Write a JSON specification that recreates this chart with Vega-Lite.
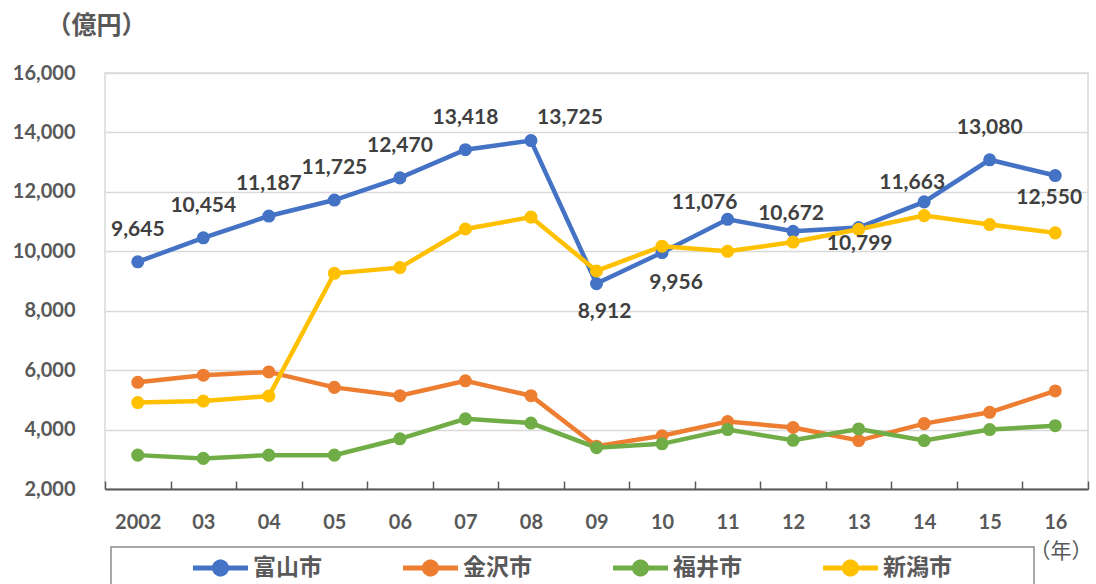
{
  "$schema": "https://vega.github.io/schema/vega-lite/v6.json",
  "width": 983,
  "height": 416,
  "autosize": {"type": "none"},
  "padding": {"left": 105, "top": 73, "right": 8, "bottom": 95},
  "background": "white",
  "config": {"view": {"stroke": "#d9d9d9", "strokeWidth": 1.5}, "font": "Lato"},
  "data": {"values": [
    {"year": "2002", "city": "富山市", "value": 9645},
    {"year": "03", "city": "富山市", "value": 10454},
    {"year": "04", "city": "富山市", "value": 11187},
    {"year": "05", "city": "富山市", "value": 11725},
    {"year": "06", "city": "富山市", "value": 12470},
    {"year": "07", "city": "富山市", "value": 13418},
    {"year": "08", "city": "富山市", "value": 13725},
    {"year": "09", "city": "富山市", "value": 8912},
    {"year": "10", "city": "富山市", "value": 9956},
    {"year": "11", "city": "富山市", "value": 11076},
    {"year": "12", "city": "富山市", "value": 10672},
    {"year": "13", "city": "富山市", "value": 10799},
    {"year": "14", "city": "富山市", "value": 11663},
    {"year": "15", "city": "富山市", "value": 13080},
    {"year": "16", "city": "富山市", "value": 12550},
    {"year": "2002", "city": "金沢市", "value": 5590},
    {"year": "03", "city": "金沢市", "value": 5830},
    {"year": "04", "city": "金沢市", "value": 5940},
    {"year": "05", "city": "金沢市", "value": 5420},
    {"year": "06", "city": "金沢市", "value": 5140},
    {"year": "07", "city": "金沢市", "value": 5640},
    {"year": "08", "city": "金沢市", "value": 5140},
    {"year": "09", "city": "金沢市", "value": 3440},
    {"year": "10", "city": "金沢市", "value": 3790},
    {"year": "11", "city": "金沢市", "value": 4270},
    {"year": "12", "city": "金沢市", "value": 4070},
    {"year": "13", "city": "金沢市", "value": 3630},
    {"year": "14", "city": "金沢市", "value": 4200},
    {"year": "15", "city": "金沢市", "value": 4580},
    {"year": "16", "city": "金沢市", "value": 5300},
    {"year": "2002", "city": "福井市", "value": 3140},
    {"year": "03", "city": "福井市", "value": 3030},
    {"year": "04", "city": "福井市", "value": 3140},
    {"year": "05", "city": "福井市", "value": 3140},
    {"year": "06", "city": "福井市", "value": 3690},
    {"year": "07", "city": "福井市", "value": 4360},
    {"year": "08", "city": "福井市", "value": 4220},
    {"year": "09", "city": "福井市", "value": 3390},
    {"year": "10", "city": "福井市", "value": 3520},
    {"year": "11", "city": "福井市", "value": 4000},
    {"year": "12", "city": "福井市", "value": 3640},
    {"year": "13", "city": "福井市", "value": 4020},
    {"year": "14", "city": "福井市", "value": 3630},
    {"year": "15", "city": "福井市", "value": 4000},
    {"year": "16", "city": "福井市", "value": 4130},
    {"year": "2002", "city": "新潟市", "value": 4910},
    {"year": "03", "city": "新潟市", "value": 4960},
    {"year": "04", "city": "新潟市", "value": 5130},
    {"year": "05", "city": "新潟市", "value": 9260},
    {"year": "06", "city": "新潟市", "value": 9450},
    {"year": "07", "city": "新潟市", "value": 10750},
    {"year": "08", "city": "新潟市", "value": 11150},
    {"year": "09", "city": "新潟市", "value": 9340},
    {"year": "10", "city": "新潟市", "value": 10170},
    {"year": "11", "city": "新潟市", "value": 10000},
    {"year": "12", "city": "新潟市", "value": 10310},
    {"year": "13", "city": "新潟市", "value": 10740},
    {"year": "14", "city": "新潟市", "value": 11200},
    {"year": "15", "city": "新潟市", "value": 10900},
    {"year": "16", "city": "新潟市", "value": 10620}
  ]},
  "encoding": {
    "x": {
      "field": "year", "type": "nominal",
      "scale": {"type": "band", "domain": ["2002","03","04","05","06","07","08","09","10","11","12","13","14","15","16"], "paddingInner": 0, "paddingOuter": 0},
      "axis": {
        "title": "（年）", "titleX": 924, "titleY": 62, "titleAlign": "left", "titleBaseline": "middle", "titleAngle": 0,
        "titleFont": "Noto Sans CJK JP", "titleFontSize": 21, "titleFontWeight": "normal", "titleColor": "#595959",
        "labelAngle": 0, "labelFont": "Lato", "labelFontSize": 20, "labelFontWeight": "bold", "labelColor": "#595959",
        "labelPadding": 31, "labelBaseline": "top",
        "domainColor": "#595959", "domainWidth": 2, "tickColor": "#595959", "tickWidth": 1.5, "tickSize": -8,
        "tickBand": "extent", "grid": false
      }
    },
    "y": {
      "field": "value", "type": "quantitative",
      "scale": {"domain": [2000, 16000], "nice": false, "zero": false},
      "axis": {
        "values": [2000, 4000, 6000, 8000, 10000, 12000, 14000, 16000], "format": ",d",
        "title": "（億円）", "titleAngle": 0, "titleX": -59, "titleY": -48, "titleAlign": "left", "titleBaseline": "middle",
        "titleFont": "Noto Sans CJK JP", "titleFontSize": 25, "titleFontWeight": "bold", "titleColor": "#595959",
        "labelFont": "Lato", "labelFontSize": 20, "labelFontWeight": "bold", "labelColor": "#595959", "labelPadding": 30,
        "ticks": false, "domain": false, "gridColor": "#d9d9d9", "gridWidth": 1.5
      }
    },
    "color": {
      "field": "city", "type": "nominal",
      "scale": {"domain": ["富山市", "金沢市", "福井市", "新潟市"], "range": ["#4472C4", "#ED7D31", "#70AD47", "#FFC000"]},
      "legend": {
        "orient": "none", "legendX": 6, "legendY": 474, "direction": "horizontal", "columns": 4, "title": null,
        "padding": 7, "strokeColor": "#8c8c8c",
        "symbolType": "M-2,-0.18L-0.593,-0.18A0.62,0.62,0,0,1,0.593,-0.18L2,-0.18L2,0.18L0.593,0.18A0.62,0.62,0,0,1,-0.593,0.18L-2,0.18Z",
        "symbolSize": 756, "symbolStrokeWidth": 0, "symbolOpacity": 1, "symbolOffset": 88.5, "labelOffset": 18.5, "columnPadding": 6,
        "labelFont": "Noto Sans CJK JP", "labelFontSize": 23, "labelFontWeight": "bold", "labelColor": "#595959",
        "labelExpr": "datum.label === '新潟市' ? datum.label + '\u3000\u3000\u3000 \u200B' : datum.label",
        "encode": {
          "symbols": {"update": {"fill": {"scale": "color", "field": "value"}, "strokeWidth": {"value": 0}}},
          "legend": {"update": {"strokeWidth": {"value": 1.5}}}
        }
      }
    }
  },
  "layer": [
    {"mark": {"type": "line", "strokeWidth": 4.5}},
    {"mark": {"type": "point", "filled": true, "size": 170, "opacity": 1}},
    {
      "transform": [{"filter": {"field": "city", "equal": "富山市"}}, {"filter": {"field": "year", "oneOf": ["2002","03","04","05","06","07","15"]}}],
      "mark": {"type": "text", "font": "Lato", "fontSize": 21, "fontWeight": "bold", "baseline": "middle", "align": "center", "dy": -32},
      "encoding": {"text": {"field": "value", "type": "quantitative", "format": ","}, "color": {"value": "#404040"}}
    },
    {
      "transform": [{"filter": {"field": "city", "equal": "富山市"}}, {"filter": {"field": "year", "equal": "08"}}],
      "mark": {"type": "text", "font": "Lato", "fontSize": 21, "fontWeight": "bold", "baseline": "middle", "align": "center", "dx": 39, "dy": -23},
      "encoding": {"text": {"field": "value", "type": "quantitative", "format": ","}, "color": {"value": "#404040"}}
    },
    {
      "transform": [{"filter": {"field": "city", "equal": "富山市"}}, {"filter": {"field": "year", "equal": "09"}}],
      "mark": {"type": "text", "font": "Lato", "fontSize": 21, "fontWeight": "bold", "baseline": "middle", "align": "center", "dx": 8, "dy": 28},
      "encoding": {"text": {"field": "value", "type": "quantitative", "format": ","}, "color": {"value": "#404040"}}
    },
    {
      "transform": [{"filter": {"field": "city", "equal": "富山市"}}, {"filter": {"field": "year", "equal": "10"}}],
      "mark": {"type": "text", "font": "Lato", "fontSize": 21, "fontWeight": "bold", "baseline": "middle", "align": "center", "dx": 14, "dy": 30},
      "encoding": {"text": {"field": "value", "type": "quantitative", "format": ","}, "color": {"value": "#404040"}}
    },
    {
      "transform": [{"filter": {"field": "city", "equal": "富山市"}}, {"filter": {"field": "year", "equal": "11"}}],
      "mark": {"type": "text", "font": "Lato", "fontSize": 21, "fontWeight": "bold", "baseline": "middle", "align": "center", "dx": -23, "dy": -16},
      "encoding": {"text": {"field": "value", "type": "quantitative", "format": ","}, "color": {"value": "#404040"}}
    },
    {
      "transform": [{"filter": {"field": "city", "equal": "富山市"}}, {"filter": {"field": "year", "equal": "12"}}],
      "mark": {"type": "text", "font": "Lato", "fontSize": 21, "fontWeight": "bold", "baseline": "middle", "align": "center", "dx": -2, "dy": -17},
      "encoding": {"text": {"field": "value", "type": "quantitative", "format": ","}, "color": {"value": "#404040"}}
    },
    {
      "transform": [{"filter": {"field": "city", "equal": "富山市"}}, {"filter": {"field": "year", "equal": "13"}}],
      "mark": {"type": "text", "font": "Lato", "fontSize": 21, "fontWeight": "bold", "baseline": "middle", "align": "center", "dx": 1, "dy": 16},
      "encoding": {"text": {"field": "value", "type": "quantitative", "format": ","}, "color": {"value": "#404040"}}
    },
    {
      "transform": [{"filter": {"field": "city", "equal": "富山市"}}, {"filter": {"field": "year", "equal": "14"}}],
      "mark": {"type": "text", "font": "Lato", "fontSize": 21, "fontWeight": "bold", "baseline": "middle", "align": "center", "dx": -12, "dy": -19},
      "encoding": {"text": {"field": "value", "type": "quantitative", "format": ","}, "color": {"value": "#404040"}}
    },
    {
      "transform": [{"filter": {"field": "city", "equal": "富山市"}}, {"filter": {"field": "year", "equal": "16"}}],
      "mark": {"type": "text", "font": "Lato", "fontSize": 21, "fontWeight": "bold", "baseline": "middle", "align": "center", "dx": -6, "dy": 22},
      "encoding": {"text": {"field": "value", "type": "quantitative", "format": ","}, "color": {"value": "#404040"}}
    }
  ]
}
